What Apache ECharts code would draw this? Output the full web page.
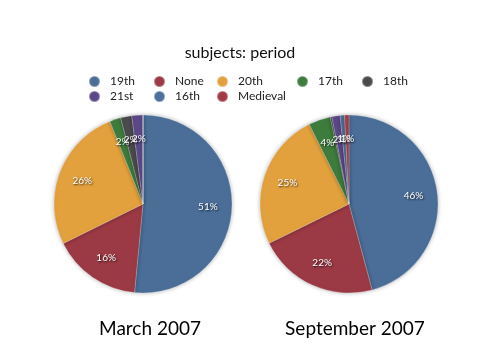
<!DOCTYPE html>
<html><head><meta charset="utf-8">
<script src="https://cdn.jsdelivr.net/npm/echarts@6/dist/echarts.min.js"></script>
<style>html,body{margin:0;padding:0;background:#fff}#c{width:480px;height:360px}</style>
</head><body><div id="c"></div>
<script>
var categories = ['19th','None','20th','17th','18th','21st','16th','Medieval'];
var colors = ['#4a6e98','#9b3a45','#e3a13d','#3e7c3e','#4b4b4d','#5c4888','#4d6f99','#a33b47'];
var march2007 = [51, 16, 26, 2, 2, 2, 0, 0];
var september2007 = [46, 22, 25, 4, 0.3, 1.5, 0.8, 0.8];
var chartTitle = 'subjects: period';
var pieTitles = ['March 2007', 'September 2007'];

var font = 'Lato, "Open Sans", sans-serif';
var legendPos = [[83,70],[148,70],[211,70],[291,70],[356,70],[83,85],[148,85],[211,85]];

function mk(vals){ return categories.map(function(n,i){ return {name:n, value:vals[i], itemStyle:{color:colors[i]}}; }); }

var legends = categories.map(function(n,i){
  return {data:[n], left:legendPos[i][0], top:legendPos[i][1], icon:'circle', itemWidth:11, itemHeight:11,
    textStyle:{fontFamily:font, fontSize:12, color:'#222', padding:[0,0,0,5]}, selectedMode:false};
});

var labelCfg = {show:true, position:'inside', color:'#fff', fontFamily:font, fontSize:10,
  textShadowColor:'rgba(0,0,0,0.8)', textShadowBlur:2, textShadowOffsetX:1, textShadowOffsetY:1,
  formatter:function(p){ return p.value < 0.5 ? '' : Math.round(p.value) + '%'; }};

function pieSeries(vals, cx){
  return [
    {type:'pie', center:[cx,204], radius:[0,89], startAngle:90, clockwise:true, data:mk(vals),
      label:{show:false}, labelLine:{show:false}, silent:true, animation:false,
      itemStyle:{borderColor:'rgba(255,255,255,0.35)', borderWidth:0.6, shadowBlur:4, shadowColor:'rgba(0,0,0,0.3)'}},
    {type:'pie', center:[cx,204], radius:[0,124], startAngle:90, clockwise:true, avoidLabelOverlap:false,
      data:categories.map(function(n,i){ return {name:n, value:vals[i], itemStyle:{color:'rgba(0,0,0,0)'}}; }),
      label:labelCfg, labelLine:{show:false}, labelLayout:{hideOverlap:false}, silent:true, animation:false, legendHoverLink:false,
      itemStyle:{borderWidth:0}}
  ];
}

var chart = echarts.init(document.getElementById('c'));
chart.setOption({
  backgroundColor:'#fff',
  animation:false,
  title:[
    {text:chartTitle, left:'center', top:40, textStyle:{fontFamily:font, fontSize:16, fontWeight:'normal', color:'#111'}},
    {text:pieTitles[0], left:145, top:314, textAlign:'center', textStyle:{fontFamily:font, fontSize:19, fontWeight:'normal', color:'#000'}},
    {text:pieTitles[1], left:350, top:314, textAlign:'center', textStyle:{fontFamily:font, fontSize:19, fontWeight:'normal', color:'#000'}}
  ],
  legend:legends,
  series:pieSeries(march2007,143).concat(pieSeries(september2007,349))
});
</script></body></html>
